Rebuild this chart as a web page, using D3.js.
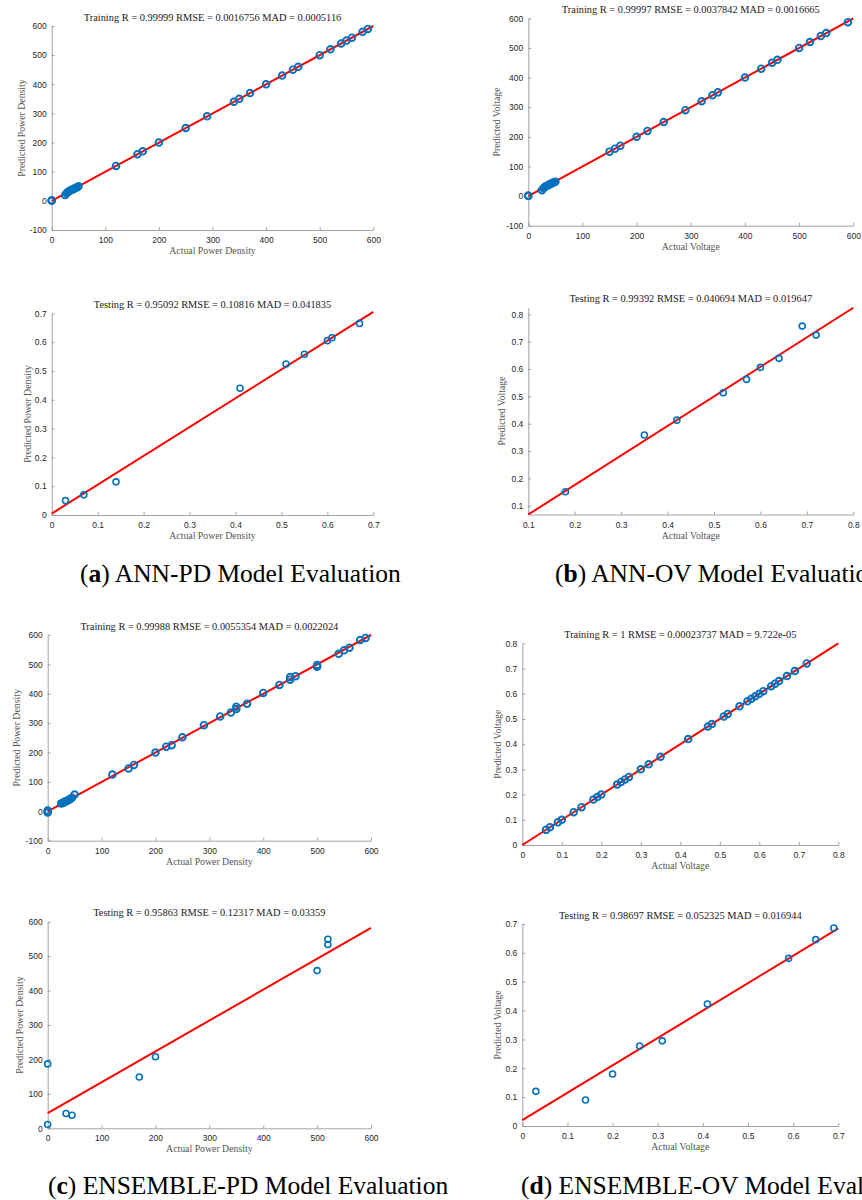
<!DOCTYPE html>
<html>
<head>
<meta charset="utf-8">
<script src="https://cdnjs.cloudflare.com/ajax/libs/d3/7.8.5/d3.min.js"></script>
<style>
  body { margin: 0; background: #fff; }
  svg { display: block; }
  .tick text { font-family: "Liberation Sans", Arial, sans-serif; font-size: 8.5px; fill: #262626; }
  .domain, .tick line { stroke: #8c8c8c; stroke-width: 0.8; }
  .title { font-family: "Liberation Serif", serif; font-size: 10.4px; fill: #1a1a1a; }
  .axlabel { font-family: "Liberation Serif", serif; font-size: 9.8px; fill: #555; }
  .caption { font-family: "Liberation Serif", serif; font-size: 25.5px; fill: #000; }
</style>
</head>
<body>
<svg id="fig" width="862" height="1200"></svg>
<script>
// Section 1: Data
// ===========================

// tick values
var hundredTicks = [0, 100, 200, 300, 400, 500, 600];
var hundredTicksNeg = [-100, 0, 100, 200, 300, 400, 500, 600];
var tenthTicks07 = [0, 0.1, 0.2, 0.3, 0.4, 0.5, 0.6, 0.7];
var tenthTicks08 = [0, 0.1, 0.2, 0.3, 0.4, 0.5, 0.6, 0.7, 0.8];
var tenthTicks18 = [0.1, 0.2, 0.3, 0.4, 0.5, 0.6, 0.7, 0.8];

// (a) ANN-PD training
var annPdTrainActual = [0, 0, 25, 28, 30, 32, 35, 38, 40, 42, 45, 48, 50, 120, 160, 170, 200, 250, 290, 340, 350, 370, 400, 430, 450, 460, 500, 520, 540, 550, 560, 580, 590];
var annPdTrainPredicted = [0, 2, 20, 26, 30, 32, 36, 38, 40, 42, 45, 47, 50, 120, 160, 170, 200, 250, 290, 340, 350, 370, 400, 430, 450, 460, 500, 520, 540, 550, 560, 580, 590];
var annPdTrainFit = [0, 600];

// (a) ANN-PD testing
var annPdTestActual = [0.03, 0.07, 0.14, 0.41, 0.51, 0.55, 0.60, 0.61, 0.67];
var annPdTestPredicted = [0.05, 0.07, 0.115, 0.44, 0.524, 0.558, 0.605, 0.615, 0.665];
var annPdTestFitX = [0, 0.7];
var annPdTestFitY = [0.005, 0.705];

// (b) ANN-OV training
var annOvTrainActual = [0, 0, 25, 28, 30, 32, 35, 38, 40, 42, 45, 48, 50, 150, 160, 170, 200, 220, 250, 290, 320, 340, 350, 400, 430, 450, 460, 500, 520, 540, 550, 590];
var annOvTrainPredicted = [0, 2, 20, 26, 30, 33, 35, 38, 40, 42, 45, 47, 48, 150, 160, 170, 200, 220, 250, 290, 320, 340, 350, 400, 430, 450, 460, 500, 520, 540, 550, 587];
var annOvTrainFit = [0, 600];

// (b) ANN-OV testing
var annOvTestActual = [0.18, 0.35, 0.42, 0.52, 0.57, 0.60, 0.64, 0.69, 0.72];
var annOvTestPredicted = [0.151, 0.359, 0.413, 0.513, 0.562, 0.606, 0.639, 0.757, 0.724];
var annOvTestFitX = [0.1, 0.8];
var annOvTestFitY = [0.068, 0.824];

// (c) ENSEMBLE-PD training
var ensPdTrainActual = [0, 0, 0, 25, 28, 30, 32, 35, 38, 40, 42, 45, 50, 120, 150, 160, 200, 220, 230, 250, 290, 320, 340, 350, 350, 370, 400, 430, 450, 450, 460, 500, 500, 540, 550, 560, 580, 590];
var ensPdTrainPredicted = [-4, 0, 3, 27, 28, 30, 33, 35, 38, 40, 42, 46, 57, 125, 146, 158, 200, 220, 225, 252, 293, 323, 336, 348, 356, 366, 403, 430, 448, 457, 460, 492, 498, 536, 548, 557, 583, 590];
var ensPdTrainFit = [0, 600];

// (c) ENSEMBLE-PD testing
var ensPdTestActual = [0, 0, 34, 45, 170, 200, 500, 520, 520];
var ensPdTestPredicted = [187, 11, 43, 38, 149, 208, 458, 534, 549];
var ensPdTestFitX = [0, 600];
var ensPdTestFitY = [44, 582];

// (d) ENSEMBLE-OV training
var ensOvTrainActual = [0.06, 0.07, 0.09, 0.10, 0.13, 0.15, 0.18, 0.19, 0.20, 0.24, 0.25, 0.26, 0.27, 0.30, 0.32, 0.35, 0.42, 0.47, 0.48, 0.51, 0.52, 0.55, 0.57, 0.58, 0.59, 0.60, 0.61, 0.63, 0.64, 0.65, 0.67, 0.69, 0.72];
var ensOvTrainPredicted = [0.06, 0.07, 0.09, 0.10, 0.13, 0.15, 0.18, 0.19, 0.20, 0.24, 0.25, 0.26, 0.27, 0.30, 0.32, 0.35, 0.42, 0.47, 0.48, 0.51, 0.52, 0.55, 0.57, 0.58, 0.59, 0.60, 0.61, 0.63, 0.64, 0.65, 0.67, 0.69, 0.72];
var ensOvTrainFit = [0, 0.8];

// (d) ENSEMBLE-OV testing
var ensOvTestActual = [0.03, 0.14, 0.20, 0.26, 0.31, 0.41, 0.59, 0.65, 0.69];
var ensOvTestPredicted = [0.12, 0.09, 0.18, 0.277, 0.295, 0.423, 0.581, 0.646, 0.686];
var ensOvTestFitX = [0, 0.7];
var ensOvTestFitY = [0.02, 0.685];

// Section 2: Panel layout
// ===========================
// box = [left, top, right, bottom] in page pixels
var panels = [
  { box: [51.7, 26, 373.3, 230], xDomain: [0, 600], yDomain: [-100, 600], xTicks: hundredTicks, yTicks: hundredTicksNeg,
    title: "Training R = 0.99999 RMSE = 0.0016756 MAD = 0.0005116", xLabel: "Actual Power Density", yLabel: "Predicted Power Density",
    actual: annPdTrainActual, predicted: annPdTrainPredicted, fitX: annPdTrainFit, fitY: annPdTrainFit, r: 3.3, sw: 1.9, yLabOff: 30 },
  { box: [528.3, 18.3, 853.3, 225.7], xDomain: [0, 600], yDomain: [-100, 600], xTicks: hundredTicks, yTicks: hundredTicksNeg,
    title: "Training R = 0.99997 RMSE = 0.0037842 MAD = 0.0016665", xLabel: "Actual Voltage", yLabel: "Predicted Voltage",
    actual: annOvTrainActual, predicted: annOvTrainPredicted, fitX: annOvTrainFit, fitY: annOvTrainFit, r: 3.3, sw: 1.9, yLabOff: 31 },
  { box: [51.7, 313.3, 373.3, 515], xDomain: [0, 0.7], yDomain: [0, 0.7], xTicks: tenthTicks07, yTicks: tenthTicks07,
    title: "Testing R = 0.95092 RMSE = 0.10816 MAD = 0.041835", xLabel: "Actual Power Density", yLabel: "Predicted Power Density",
    actual: annPdTestActual, predicted: annPdTestPredicted, fitX: annPdTestFitX, fitY: annPdTestFitY, r: 3, sw: 1.6, yLabOff: 24 },
  { box: [528.3, 307.5, 853.3, 514.5], xDomain: [0.1, 0.8], yDomain: [0.068, 0.825], xTicks: tenthTicks18, yTicks: tenthTicks18,
    title: "Testing R = 0.99392 RMSE = 0.040694 MAD = 0.019647", xLabel: "Actual Voltage", yLabel: "Predicted Voltage",
    actual: annOvTestActual, predicted: annOvTestPredicted, fitX: annOvTestFitX, fitY: annOvTestFitY, r: 3, sw: 1.6, yLabOff: 26 },
  { box: [47.7, 635, 371, 840.7], xDomain: [0, 600], yDomain: [-100, 600], xTicks: hundredTicks, yTicks: hundredTicksNeg,
    title: "Training R = 0.99988 RMSE = 0.0055354 MAD = 0.0022024", xLabel: "Actual Power Density", yLabel: "Predicted Power Density",
    actual: ensPdTrainActual, predicted: ensPdTrainPredicted, fitX: ensPdTrainFit, fitY: ensPdTrainFit, r: 3.3, sw: 1.9, yLabOff: 31 },
  { box: [522.3, 643.3, 838.3, 845], xDomain: [0, 0.8], yDomain: [0, 0.8], xTicks: tenthTicks08, yTicks: tenthTicks08,
    title: "Training R = 1 RMSE = 0.00023737 MAD = 9.722e-05", xLabel: "Actual Voltage", yLabel: "Predicted Voltage",
    actual: ensOvTrainActual, predicted: ensOvTrainPredicted, fitX: ensOvTrainFit, fitY: ensOvTrainFit, r: 3.3, sw: 1.9, yLabOff: 24 },
  { box: [47.7, 921.7, 371, 1128.3], xDomain: [0, 600], yDomain: [0, 600], xTicks: hundredTicks, yTicks: hundredTicks,
    title: "Testing R = 0.95863 RMSE = 0.12317 MAD = 0.03359", xLabel: "Actual Power Density", yLabel: "Predicted Power Density",
    actual: ensPdTestActual, predicted: ensPdTestPredicted, fitX: ensPdTestFitX, fitY: ensPdTestFitY, r: 3, sw: 1.6, yLabOff: 28 },
  { box: [522.3, 924, 838.3, 1126], xDomain: [0, 0.7], yDomain: [0, 0.7], xTicks: tenthTicks07, yTicks: tenthTicks07,
    title: "Testing R = 0.98697 RMSE = 0.052325 MAD = 0.016944", xLabel: "Actual Voltage", yLabel: "Predicted Voltage",
    actual: ensOvTestActual, predicted: ensOvTestPredicted, fitX: ensOvTestFitX, fitY: ensOvTestFitY, r: 3, sw: 1.6, yLabOff: 24 }
];

// captions under each column pair; the right-hand ones run off the page edge as in the source figure
var captions = [
  { letter: "a", text: " ANN-PD Model Evaluation", x: 80, y: 582 },
  { letter: "b", text: " ANN-OV Model Evaluation", x: 555, y: 582 },
  { letter: "c", text: " ENSEMBLE-PD Model Evaluation", x: 48, y: 1194 },
  { letter: "d", text: " ENSEMBLE-OV Model Evaluation", x: 521, y: 1194 }
];

// Section 3: Draw
// ===========================
var svg = d3.select("#fig");

function fmt(d) {
  return String(Math.round(d * 10) / 10);
}

panels.forEach(function(p) {
  var left = p.box[0], top = p.box[1], right = p.box[2], bottom = p.box[3];

  var x = d3.scaleLinear().domain(p.xDomain).range([left, right]);
  var y = d3.scaleLinear().domain(p.yDomain).range([bottom, top]);

  var g = svg.append("g");

  // axes, ticks point inward like MATLAB
  g.append("g")
    .attr("transform", "translate(0," + bottom + ")")
    .call(d3.axisBottom(x).tickValues(p.xTicks).tickFormat(fmt).tickSizeInner(-3).tickSizeOuter(0).tickPadding(7));

  g.append("g")
    .attr("transform", "translate(" + left + ",0)")
    .call(d3.axisLeft(y).tickValues(p.yTicks).tickFormat(fmt).tickSizeInner(-3).tickSizeOuter(0).tickPadding(5));

  // the fitted line
  var fit = p.fitX.map(function(v, i) { return [v, p.fitY[i]]; });
  g.append("path")
    .datum(fit)
    .attr("fill", "none")
    .attr("stroke", "#ff0000")
    .attr("stroke-width", 2)
    .attr("d", d3.line().x(function(d) { return x(d[0]); }).y(function(d) { return y(d[1]); }));

  // points
  var pts = p.actual.map(function(v, i) { return [v, p.predicted[i]]; });
  g.selectAll("circle")
    .data(pts)
    .enter()
    .append("circle")
    .attr("cx", function(d) { return x(d[0]); })
    .attr("cy", function(d) { return y(d[1]); })
    .attr("r", p.r)
    .attr("fill", "none")
    .attr("stroke", "#0072bd")
    .attr("stroke-width", p.sw);

  // labels
  g.append("text")
    .attr("class", "title")
    .attr("x", (left + right) / 2)
    .attr("y", top - 5.5)
    .attr("text-anchor", "middle")
    .text(p.title);

  g.append("text")
    .attr("class", "axlabel")
    .attr("x", (left + right) / 2)
    .attr("y", bottom + 24)
    .attr("text-anchor", "middle")
    .text(p.xLabel);

  g.append("text")
    .attr("class", "axlabel")
    .attr("transform", "translate(" + (left - p.yLabOff + 3) + "," + ((top + bottom) / 2) + ") rotate(-90)")
    .attr("text-anchor", "middle")
    .text(p.yLabel);
});

// sub-figure captions
captions.forEach(function(c) {
  var t = svg.append("text")
    .attr("class", "caption")
    .attr("x", c.x)
    .attr("y", c.y);
  t.append("tspan").text("(");
  t.append("tspan").attr("font-weight", "bold").text(c.letter);
  t.append("tspan").text(")" + c.text);
});
</script>
</body>
</html>
